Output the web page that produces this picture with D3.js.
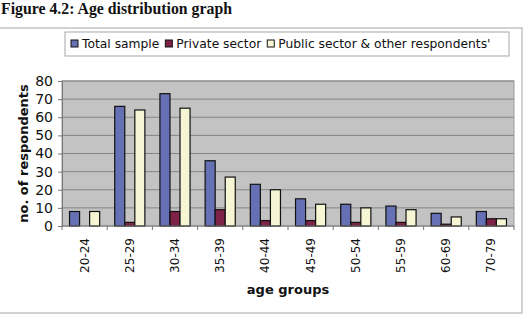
<!DOCTYPE html>
<html>
<head>
<meta charset="utf-8">
<script src="https://cdn.jsdelivr.net/npm/d3@7"></script>
<style>
  body { margin: 0; background: #fff; }
  svg { display: block; }
</style>
</head>
<body>
<div id="container"></div>
<script>
/* CONSTANTS AND GLOBALS */
const width = 529,
  height = 320,
  margin = { top: 81, right: 15, bottom: 94, left: 62 };

// chart data
const ageGroups = ["20-24", "25-29", "30-34", "35-39", "40-44", "45-49", "50-54", "55-59", "60-69", "70-79"];
const totalSample = [8, 66, 73, 36, 23, 15, 12, 11, 7, 8];
const privateSector = [0, 2, 8, 9, 3, 3, 2, 2, 1, 4];
const publicSector = [8, 64, 65, 27, 20, 12, 10, 9, 5, 4];
const seriesNames = ["Total sample", "Private sector", "Public sector & other respondents'"];
const yTicks = [0, 10, 20, 30, 40, 50, 60, 70, 80];

const colors = ["#6670b4", "#7e2248", "#f6f6d4"];

const series = [totalSample, privateSector, publicSector];
const data = ageGroups.map((g, i) => ({
  group: g,
  values: series.map((s, j) => ({ key: seriesNames[j], value: s[i], idx: j }))
}));

const svg = d3.select("#container")
  .append("svg")
  .attr("width", width)
  .attr("height", height);

// title
svg.append("text")
  .attr("x", 1)
  .attr("y", 14)
  .attr("font-family", "Liberation Serif")
  .attr("font-weight", "bold")
  .attr("font-size", 15.8)
  .attr("fill", "#111")
  .text("Figure 4.2: Age distribution graph");

// outer chart frame
svg.append("rect")
  .attr("x", -3)
  .attr("y", 28)
  .attr("width", 525)
  .attr("height", 285)
  .attr("fill", "none")
  .attr("stroke", "#c4c4c4")
  .attr("stroke-width", 1.5);

// + SCALES
const xScale = d3.scaleBand()
  .domain(ageGroups)
  .range([margin.left, width - margin.right])
  .paddingInner(1 / 3)
  .paddingOuter(1 / 6);

const xInner = d3.scaleBand()
  .domain(seriesNames)
  .range([0, xScale.bandwidth()]);

const yScale = d3.scaleLinear()
  .domain([0, 80])
  .range([height - margin.bottom, margin.top]);

const plotW = width - margin.right - margin.left;
const plotH = height - margin.bottom - margin.top;

// plot background
svg.append("rect")
  .attr("x", margin.left)
  .attr("y", margin.top)
  .attr("width", plotW)
  .attr("height", plotH)
  .attr("fill", "#c3c3c3")
  .attr("stroke", "#9a9a9a");

// gridlines
svg.append("g")
  .selectAll("line")
  .data(yTicks.slice(1))
  .join("line")
  .attr("x1", margin.left)
  .attr("x2", width - margin.right)
  .attr("y1", d => yScale(d))
  .attr("y2", d => yScale(d))
  .attr("stroke", "#858585")
  .attr("stroke-width", 1);

// + DRAW BARS
svg.append("g")
  .selectAll("g")
  .data(data)
  .join("g")
  .attr("transform", d => `translate(${xScale(d.group)},0)`)
  .selectAll("rect")
  .data(d => d.values)
  .join("rect")
  .attr("x", d => xInner(d.key))
  .attr("width", xInner.bandwidth())
  .attr("y", d => yScale(d.value))
  .attr("height", d => yScale(0) - yScale(d.value))
  .attr("fill", d => colors[d.idx])
  .attr("stroke", "#111")
  .attr("stroke-width", 1.2);

// + AXES
const yAxis = d3.axisLeft(yScale)
  .tickValues(yTicks)
  .tickSize(4)
  .tickPadding(5);

const yAxisGroup = svg.append("g")
  .attr("transform", `translate(${margin.left},0)`)
  .call(yAxis);

yAxisGroup.select(".domain").attr("stroke", "#777");
yAxisGroup.selectAll(".tick line").attr("stroke", "#777");
yAxisGroup.selectAll(".tick text")
  .attr("font-family", "DejaVu Sans")
  .attr("font-size", 14)
  .attr("fill", "#111");

// x axis: ticks sit on the category boundaries
const step = xScale.step();
const xAxisGroup = svg.append("g")
  .attr("transform", `translate(0,${height - margin.bottom})`);

xAxisGroup.append("line")
  .attr("x1", margin.left)
  .attr("x2", width - margin.right)
  .attr("stroke", "#777");

xAxisGroup.selectAll(".xtick")
  .data(d3.range(ageGroups.length + 1))
  .join("line")
  .attr("class", "xtick")
  .attr("x1", i => margin.left + i * step)
  .attr("x2", i => margin.left + i * step)
  .attr("y1", 0)
  .attr("y2", 4)
  .attr("stroke", "#777");

xAxisGroup.selectAll(".xlabel")
  .data(ageGroups)
  .join("text")
  .attr("class", "xlabel")
  .attr("transform", d => `translate(${xScale(d) + xScale.bandwidth() / 2 + 4},12) rotate(-90)`)
  .attr("text-anchor", "end")
  .attr("font-family", "DejaVu Sans")
  .attr("font-size", 12)
  .attr("fill", "#111")
  .text(d => d);

// axis titles
svg.append("text")
  .attr("transform", `translate(${margin.left + plotW / 2},${height - 26})`)
  .attr("text-anchor", "middle")
  .attr("font-family", "DejaVu Sans")
  .attr("font-weight", "bold")
  .attr("font-size", 13)
  .attr("fill", "#111")
  .text("age groups");

svg.append("text")
  .attr("transform", `translate(28,${margin.top + plotH / 2}) rotate(-90)`)
  .attr("text-anchor", "middle")
  .attr("font-family", "DejaVu Sans")
  .attr("font-weight", "bold")
  .attr("font-size", 13)
  .attr("fill", "#111")
  .text("no. of respondents");

// + LEGEND
const legend = svg.append("g");
legend.append("rect")
  .attr("x", 65)
  .attr("y", 32)
  .attr("width", 444)
  .attr("height", 24)
  .attr("fill", "#fff")
  .attr("stroke", "#a8a8a8");

let lx = 71;
seriesNames.forEach((name, i) => {
  legend.append("rect")
    .attr("x", lx)
    .attr("y", 40)
    .attr("width", 7)
    .attr("height", 7)
    .attr("fill", colors[i])
    .attr("stroke", "#111");
  const t = legend.append("text")
    .attr("x", lx + 11)
    .attr("y", 48)
    .attr("font-family", "DejaVu Sans")
    .attr("font-size", 12.3)
    .attr("fill", "#111")
    .text(name);
  lx += 11 + t.node().getComputedTextLength() + 6;
});
</script>
</body>
</html>
